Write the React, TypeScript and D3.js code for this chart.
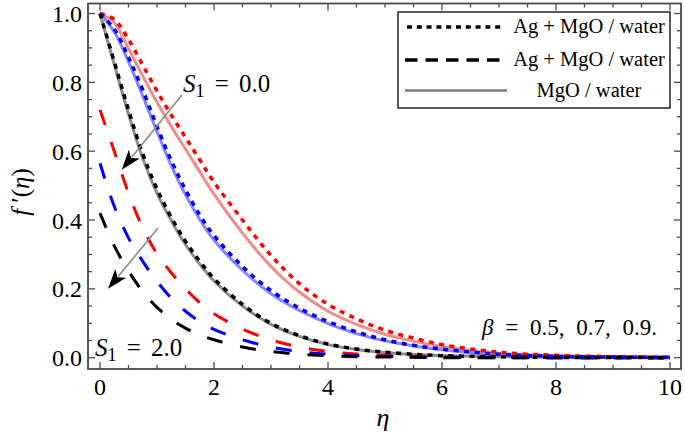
import React from 'react';
import * as d3 from 'd3';

const etaGrid = [0, 0.25, 0.5, 0.75, 1, 1.25, 1.5, 1.75, 2, 2.5, 3, 3.5, 4, 4.5, 5, 5.5, 6, 7, 8, 9, 10];

// S1 = 0.0, Ag + MgO / water (dotted)
const redDotted = [1.0, 0.983, 0.925, 0.85, 0.775, 0.705, 0.64, 0.575, 0.51, 0.4, 0.297, 0.215, 0.155, 0.113, 0.08, 0.057, 0.038, 0.016, 0.007, 0.003, 0.001];
const blueDotted = [1.0, 0.955, 0.873, 0.778, 0.672, 0.573, 0.488, 0.415, 0.355, 0.265, 0.195, 0.144, 0.105, 0.075, 0.052, 0.036, 0.025, 0.01, 0.004, 0.002, 0.001];
const blackDotted = [1.0, 0.86, 0.72, 0.592, 0.49, 0.408, 0.338, 0.28, 0.23, 0.155, 0.1, 0.064, 0.04, 0.025, 0.016, 0.01, 0.006, 0.003, 0.001, 0.0005, 0];

// MgO / water (solid, light)
const redSolid = [1.0, 0.973, 0.898, 0.818, 0.742, 0.672, 0.606, 0.54, 0.475, 0.362, 0.265, 0.19, 0.135, 0.097, 0.068, 0.048, 0.032, 0.013, 0.006, 0.003, 0.001];
const blueSolid = [1.0, 0.947, 0.86, 0.76, 0.657, 0.558, 0.473, 0.402, 0.342, 0.254, 0.186, 0.137, 0.099, 0.07, 0.049, 0.034, 0.023, 0.009, 0.004, 0.002, 0.001];
const blackSolid = [1.0, 0.852, 0.708, 0.579, 0.478, 0.398, 0.329, 0.272, 0.223, 0.15, 0.097, 0.062, 0.038, 0.024, 0.015, 0.009, 0.006, 0.003, 0.001, 0.0005, 0];

// S1 = 2.0, Ag + MgO / water (dashed)
const redDashed = [0.72, 0.6, 0.478, 0.377, 0.302, 0.247, 0.2, 0.16, 0.128, 0.083, 0.052, 0.031, 0.018, 0.011, 0.007, 0.005, 0.003, 0.001, 0, 0, 0];
const blueDashed = [0.565, 0.44, 0.348, 0.28, 0.222, 0.173, 0.135, 0.105, 0.082, 0.052, 0.031, 0.018, 0.01, 0.006, 0.004, 0.002, 0.001, 0, 0, 0, 0];
const blackDashed = [0.42, 0.325, 0.252, 0.192, 0.146, 0.112, 0.086, 0.066, 0.052, 0.031, 0.018, 0.01, 0.006, 0.003, 0.002, 0.001, 0, 0, 0, 0, 0];

const xTicks = [0, 2, 4, 6, 8, 10];
const yTicks = [0, 0.2, 0.4, 0.6, 0.8, 1.0];
const legendLabels = ['Ag + MgO / water', 'Ag + MgO / water', 'MgO / water'];

const W = 685;
const H = 437;
const FONT = "'Liberation Serif', 'DejaVu Serif', serif";

const frame = { left: 88, right: 681, top: 3.5, bottom: 369 };
const x = d3.scaleLinear().domain([0, 10]).range([100, 670]);
const y = d3.scaleLinear().domain([0, 1]).range([357.7, 13.5]);

const line = d3
  .line<[number, number]>()
  .x((d) => x(d[0]))
  .y((d) => y(d[1]))
  .curve(d3.curveCatmullRom.alpha(0.5));

const toPts = (vals: number[]) => etaGrid.map((e, i) => [e, vals[i]] as [number, number]);

function Arrow({ from, to }: { from: [number, number]; to: [number, number] }) {
  const x0 = x(from[0]);
  const y0 = y(from[1]);
  const x1 = x(to[0]);
  const y1 = y(to[1]);
  const dx = x1 - x0;
  const dy = y1 - y0;
  const len = Math.hypot(dx, dy);
  const ux = dx / len;
  const uy = dy / len;
  const hl = 20;
  const hw = 7;
  const bx = x1 - ux * hl;
  const by = y1 - uy * hl;
  const px = -uy;
  const py = ux;
  return (
    <g>
      <line x1={x0} y1={y0} x2={bx + ux * 4} y2={by + uy * 4} stroke="#8a8a8a" strokeWidth={1.6} />
      <path
        d={`M${x1},${y1} L${bx + px * hw},${by + py * hw} L${bx + ux * 5},${by + uy * 5} L${bx - px * hw},${by - py * hw} Z`}
        fill="#000"
      />
    </g>
  );
}

const txt = (size: number, extra: React.CSSProperties = {}): React.CSSProperties => ({
  fontFamily: FONT,
  fontSize: size,
  ...extra,
});

export default function App() {
  const minorX = d3.range(0, 10.01, 0.5).filter((v) => Math.abs(v / 2 - Math.round(v / 2)) > 1e-6);
  const minorY = d3.range(0, 1.001, 0.05).filter((v) => Math.abs(v / 0.2 - Math.round(v / 0.2)) > 1e-6);

  const solids = [
    { vals: redSolid, color: '#f28b8b' },
    { vals: blueSolid, color: '#8484ff' },
    { vals: blackSolid, color: '#8c8c8c' },
  ];
  const dashed = [
    { vals: redDashed, color: '#ff0000' },
    { vals: blueDashed, color: '#0000ff' },
    { vals: blackDashed, color: '#000000' },
  ];
  const dotted = [
    { vals: redDotted, color: '#ff0000' },
    { vals: blueDotted, color: '#0000ff' },
    { vals: blackDotted, color: '#000000' },
  ];

  const frameColor = '#4a4a4a';

  return (
    <svg
      width={W}
      height={H}
      style={{ position: 'absolute', left: 0, top: 0, background: '#fff', fontFamily: FONT }}
    >
      <rect x={0} y={0} width={W} height={H} fill="#fff" />
      <defs>
        <clipPath id="plotClip">
          <rect x={frame.left} y={frame.top} width={frame.right - frame.left} height={frame.bottom - frame.top} />
        </clipPath>
      </defs>

      {/* ticks */}
      <g stroke={frameColor} strokeWidth={1.3}>
        {xTicks.map((t) => (
          <g key={'xt' + t}>
            <line x1={x(t)} x2={x(t)} y1={frame.bottom} y2={frame.bottom - 7} />
            <line x1={x(t)} x2={x(t)} y1={frame.top} y2={frame.top + 7} />
          </g>
        ))}
        {minorX.map((t) => (
          <g key={'xm' + t}>
            <line x1={x(t)} x2={x(t)} y1={frame.bottom} y2={frame.bottom - 4} />
            <line x1={x(t)} x2={x(t)} y1={frame.top} y2={frame.top + 4} />
          </g>
        ))}
        {yTicks.map((t) => (
          <g key={'yt' + t}>
            <line x1={frame.left} x2={frame.left + 7} y1={y(t)} y2={y(t)} />
            <line x1={frame.right} x2={frame.right - 7} y1={y(t)} y2={y(t)} />
          </g>
        ))}
        {minorY.map((t) => (
          <g key={'ym' + t}>
            <line x1={frame.left} x2={frame.left + 4} y1={y(t)} y2={y(t)} />
            <line x1={frame.right} x2={frame.right - 4} y1={y(t)} y2={y(t)} />
          </g>
        ))}
      </g>

      {/* curves */}
      <g clipPath="url(#plotClip)" fill="none">
        {solids.map((s, i) => (
          <path key={'s' + i} d={line(toPts(s.vals)) || ''} stroke={s.color} strokeWidth={3} />
        ))}
        {dashed.map((s, i) => (
          <path key={'d' + i} d={line(toPts(s.vals)) || ''} stroke={s.color} strokeWidth={3} strokeDasharray="16,18" />
        ))}
        {dotted.map((s, i) => (
          <path key={'o' + i} d={line(toPts(s.vals)) || ''} stroke={s.color} strokeWidth={3.5} strokeDasharray="5,5.5" />
        ))}
      </g>

      {/* frame */}
      <rect
        x={frame.left}
        y={frame.top}
        width={frame.right - frame.left}
        height={frame.bottom - frame.top}
        fill="none"
        stroke={frameColor}
        strokeWidth={1.8}
      />

      {/* tick labels */}
      <g fill="#000">
        {xTicks.map((t) => (
          <text key={'xl' + t} x={x(t)} y={395} textAnchor="middle" style={txt(24)}>
            {String(t)}
          </text>
        ))}
        {yTicks.map((t) => (
          <text key={'yl' + t} x={82} y={y(t) + 8.5} textAnchor="end" style={txt(24)}>
            {t.toFixed(1)}
          </text>
        ))}
      </g>

      {/* axis labels */}
      <text x={383} y={426} textAnchor="middle" style={txt(26, { fontStyle: 'italic' })}>
        η
      </text>
      <text transform="translate(29,192) rotate(-90)" textAnchor="middle" style={txt(25)}>
        <tspan fontStyle="italic">f</tspan>
        <tspan> ′(</tspan>
        <tspan fontStyle="italic">η</tspan>
        <tspan>)</tspan>
      </text>

      {/* arrows */}
      <Arrow from={[1.44, 0.764]} to={[0.382, 0.546]} />
      <Arrow from={[1.02, 0.377]} to={[0.14, 0.2]} />

      {/* annotations */}
      <text x={183} y={92} style={txt(25, { wordSpacing: 4 })}>
        <tspan fontStyle="italic">S</tspan>
        <tspan fontSize={18} dy={5}>1</tspan>
        <tspan dy={-5}> = 0.0</tspan>
      </text>
      <text x={95} y={356} style={txt(25, { wordSpacing: 4 })}>
        <tspan fontStyle="italic">S</tspan>
        <tspan fontSize={18} dy={5}>1</tspan>
        <tspan dy={-5}> = 2.0</tspan>
      </text>
      <text x={482} y={335} style={txt(23, { wordSpacing: 6 })}>
        <tspan fontStyle="italic">β</tspan>
        <tspan> = 0.5, 0.7, 0.9.</tspan>
      </text>

      {/* legend */}
      <g>
        <rect x={398} y={12} width={272} height={96} fill="#fff" stroke="#222" strokeWidth={1.5} />
        <line x1={407} x2={505} y1={27} y2={27} stroke="#000" strokeWidth={3.5} strokeDasharray="5,4.8" />
        <line x1={405} x2={505} y1={60} y2={60} stroke="#000" strokeWidth={3.5} strokeDasharray="12.5,8" />
        <line x1={405} x2={507} y1={90.5} y2={90.5} stroke="#7a7a7a" strokeWidth={2.6} />
        {legendLabels.map((lab, i) => (
          <text key={'lg' + i} x={589} y={[33, 66, 97][i]} textAnchor="middle" style={txt(20.5)}>
            {lab}
          </text>
        ))}
      </g>
    </svg>
  );
}
